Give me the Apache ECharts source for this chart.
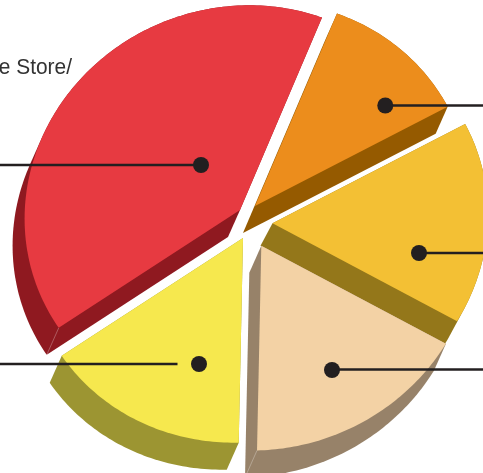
<!DOCTYPE html>
<html><head><meta charset="utf-8">
<style>html,body{margin:0;padding:0;background:#fff}#c{width:483px;height:473px}</style>
<script src="https://cdn.jsdelivr.net/npm/echarts@6/dist/echarts.min.js"></script>
</head><body><div id="c"></div>
<script>
// Values (share of the pie, clockwise from the start angle)
const sliceNames = ['Store', 'Orange', 'Amber', 'Sand', 'Yellow'];
const sliceValues = [40.3, 11.4, 16.0, 16.7, 15.6];
const faceColors = ['#E73A41', '#EC8D1C', '#F3C034', '#F3D2A5', '#F6E84E'];
const sideColors = ['#8F1920', '#955A00', '#94771A', '#978269', '#9C9532'];
// Layout of the exploded pie
const sliceOrigins = [[240,210],[255,206],[272.5,223.3],[261.3,245.8],[243,238]];
const sliceDepths = [[-12,27],[-12,27],[-12,22.4],[-12,27],[-12,27]];
const creases = [1,0,0,1,0];
const startAngle = 213.9;
const ell = {a:217, b:203, tilt:20};
const labelText = 'e Store/';

const total = sliceValues.reduce((s,v)=>s+v,0);
const rad = d => d*Math.PI/180;
function rim(t){
  const c=Math.cos(rad(ell.tilt)), s=Math.sin(rad(ell.tilt));
  const px=Math.cos(rad(t)), py=Math.sin(rad(t));
  const u=(px*c+py*s)*ell.a, v=(-px*s+py*c)*ell.b;
  return [u*c-v*s, u*s+v*c];
}
function hull(pts){
  const p=pts.slice().sort((a,b)=>a[0]-b[0]||a[1]-b[1]);
  const cr=(o,a,b)=>(a[0]-o[0])*(b[1]-o[1])-(a[1]-o[1])*(b[0]-o[0]);
  const lo=[],up=[];
  for(const q of p){while(lo.length>1&&cr(lo[lo.length-2],lo[lo.length-1],q)<=0)lo.pop();lo.push(q);}
  for(const q of p.slice().reverse()){while(up.length>1&&cr(up[up.length-2],up[up.length-1],q)<=0)up.pop();up.push(q);}
  return lo.slice(0,-1).concat(up.slice(0,-1));
}
function renderSlice(params, api){
  const i=params.dataIndex, value=api.value(0);
  let before=0; for(let k=0;k<i;k++) before+=sliceValues[k];
  const a0=startAngle-before/total*360, sweep=value/total*360;
  const o=sliceOrigins[i], depth=sliceDepths[i];
  const face=[o.slice()];
  const n=Math.ceil(sweep);
  for(let k=0;k<=n;k++){const r=rim(a0-sweep*k/n);face.push([o[0]+r[0],o[1]-r[1]]);}
  const shifted=face.map(p=>[p[0]+depth[0],p[1]+depth[1]]);
  const children=[
    {type:'polygon',shape:{points:hull(face.concat(shifted))},style:{fill:sideColors[i]}},
    {type:'polygon',shape:{points:face},style:{fill:faceColors[i]}}
  ];
  if(creases[i]){
    const e=i===0?face[1]:face[face.length-1];
    children.push({type:'line',shape:{x1:e[0],y1:e[1],x2:e[0]+depth[0],y2:e[1]+depth[1]},
      style:{stroke:'rgba(255,255,255,0.4)',lineWidth:0.7}});
  }
  return {type:'group',children};
}
const callouts=[
  {dot:[385.3,105.5],from:[385,105.5],to:[483,105.5]},
  {dot:[201,165],from:[0,165],to:[201,165]},
  {dot:[419,253],from:[419,253],to:[483,253]},
  {dot:[332,370],from:[332,369.5],to:[483,369.5]},
  {dot:[199,364],from:[0,364],to:[177.5,364]}
];
const graphic=[];
callouts.forEach(c=>{
  graphic.push({type:'line',z:20,shape:{x1:c.from[0],y1:c.from[1],x2:c.to[0],y2:c.to[1]},style:{stroke:'#231F20',lineWidth:2.4}});
  graphic.push({type:'circle',z:21,shape:{cx:c.dot[0],cy:c.dot[1],r:8},style:{fill:'#231F20'}});
});
graphic.push({type:'text',z:22,x:72,y:79,scaleX:0.93,style:{text:labelText,align:'right',verticalAlign:'bottom',fill:'#333333',
  font:'22.5px "Liberation Sans",sans-serif'}});
const chart=echarts.init(document.getElementById('c'),null,{renderer:'canvas'});
chart.setOption({
  animation:false,backgroundColor:'#ffffff',
  graphic,
  series:[{type:'custom',coordinateSystem:'none',renderItem:renderSlice,silent:true,
    data:sliceValues.map((v,i)=>({name:sliceNames[i],value:[v]}))}]
});
</script></body></html>
